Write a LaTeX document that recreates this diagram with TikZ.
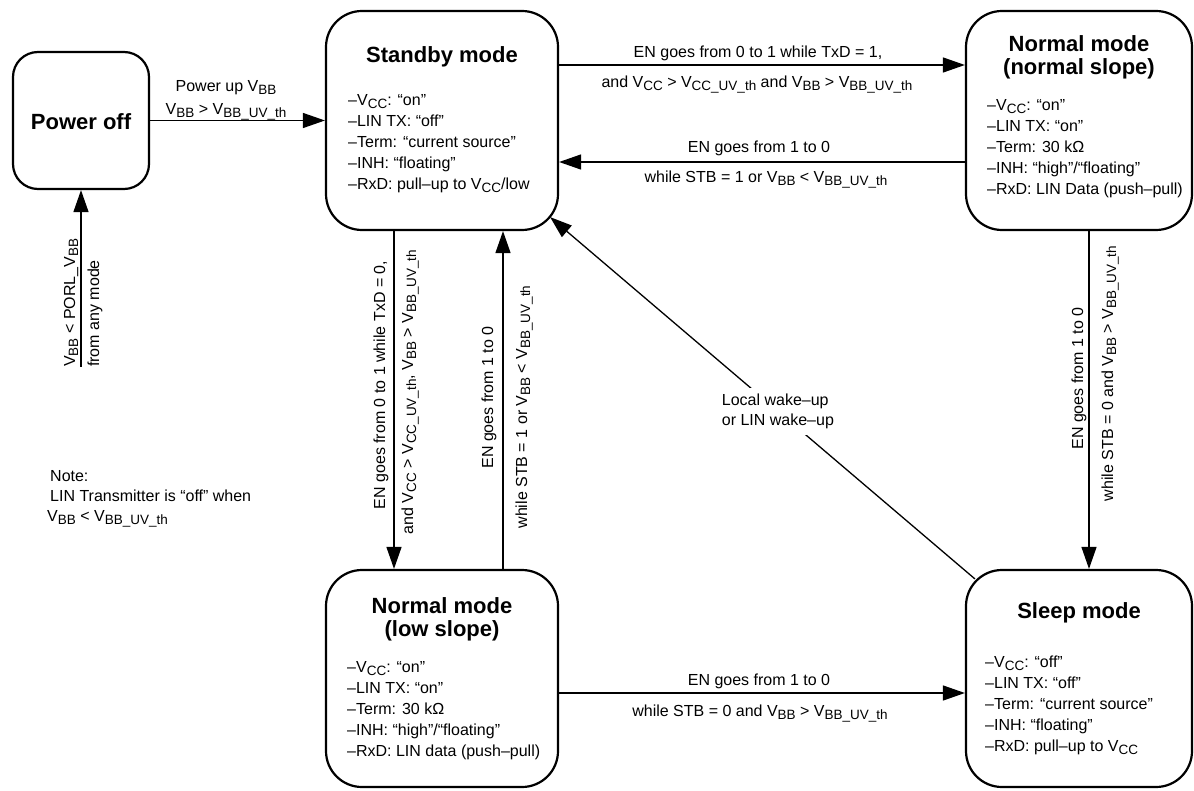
\documentclass[tikz,border=0pt]{standalone}
\usepackage{fontspec}
\setmainfont{Liberation Sans}
\usetikzlibrary{arrows.meta}
\newcommand\subs[1]{\raisebox{-3pt}{\fontsize{13.5}{13.5}\selectfont #1}}
\newcommand\myline[1]{\hbox{#1}}
\newcommand\mystack[2]{\vtop{\baselineskip=#1\relax #2}}
\newcommand\twoc[2]{\vtop{\baselineskip=23pt\relax\hbox to 0pt{\hss #1\hss}\hbox to 0pt{\hss #2\hss}}}
\tikzset{
  box/.style={draw, line width=2.2pt, rounded corners=36pt, inner sep=0pt},
  arr/.style={line width=1.3pt, -{Triangle[length=22pt,width=15pt]}},
  lbl/.style={font=\fontsize{16}{20}\selectfont, inner sep=0pt},
  ttl/.style={font=\fontsize{22}{24}\selectfont\bfseries, inner sep=0pt},
}
\begin{document}
\begin{tikzpicture}[x=1pt,y=-1pt]
\path[use as bounding box] (0,0) rectangle (1194,791);
% boxes
\node[box, rounded corners=25pt, minimum width=136pt, minimum height=137pt] (poweroff) at (81,120.5) {};
\node[box, minimum width=232pt, minimum height=219pt] (standby) at (442,120.5) {};
\node[box, minimum width=226pt, minimum height=219pt] (normal) at (1079,120.5) {};
\node[box, minimum width=232pt, minimum height=217pt] (lowsl) at (442,678.5) {};
\node[box, minimum width=226pt, minimum height=217pt] (sleep) at (1079,678.5) {};
% titles
\node[ttl, anchor=base] (poweroffT) at (81,130) {Power off};
\node[ttl, anchor=base] (standbyT) at (442,63) {Standby mode};
\node[ttl, anchor=base] (normalT) at (1079,52) {\twoc{Normal mode}{(normal slope)}};
\node[ttl, anchor=base] (lowslT) at (442,613) {\twoc{Normal mode}{(low slope)}};
\node[ttl, anchor=base] (sleepT) at (1079,618) {Sleep mode};
% bodies
\node[lbl, anchor=base west] (standbyB) at (348,106) {\mystack{21pt}{%
  \myline{–V\subs{CC}: “on”}\myline{–LIN TX: “off”}\myline{–Term: “current source”}%
  \myline{–INH: “floating”}\myline{–RxD: pull–up to V\subs{CC}/low}}};
\node[lbl, anchor=base west] (normalB) at (987,111) {\mystack{21pt}{%
  \myline{–V\subs{CC}: “on”}\myline{–LIN TX: “on”}\myline{–Term: 30 kΩ}%
  \myline{–INH: “high”/“floating”}\myline{–RxD: LIN Data (push–pull)}}};
\node[lbl, anchor=base west] (lowslB) at (347,672) {\mystack{21pt}{%
  \myline{–V\subs{CC}: “on”}\myline{–LIN TX: “on”}\myline{–Term: 30 kΩ}%
  \myline{–INH: “high”/“floating”}\myline{–RxD: LIN data (push–pull)}}};
\node[lbl, anchor=base west] (sleepB) at (985,667) {\mystack{21pt}{%
  \myline{–V\subs{CC}: “off”}\myline{–LIN TX: “off”}\myline{–Term: “current source”}%
  \myline{–INH: “floating”}\myline{–RxD: pull–up to V\subs{CC}}}};
% connectors
\coordinate (porl) at (81,367);
\draw[arr] (porl) -- (poweroff.south);
\draw[arr] (poweroff) -- (standby);
\draw[arr] ([yshift=55.5pt]standby.east) -- ([yshift=55.5pt]normal.west);
\draw[arr] ([yshift=-41.5pt]normal.west) -- ([yshift=-41.5pt]standby.east);
\draw[arr] ([xshift=-48pt]standby.south) -- ([xshift=-48pt]lowsl.north);
\draw[arr] ([xshift=61pt]lowsl.north) -- ([xshift=61pt]standby.south);
\draw[arr] ([xshift=10pt]normal.south) -- ([xshift=10pt]sleep.north);
\draw[arr] ([yshift=-14.5pt]lowsl.east) -- ([yshift=-14.5pt]sleep.west);
\draw[arr] ([xshift=10pt,yshift=-10pt]sleep.north west) --
  node[pos=0.4637, fill=white, inner sep=6pt, font=\fontsize{16}{20}\selectfont] (wake)
  {\mystack{20pt}{\myline{Local wake–up}\myline{or LIN wake–up}}}
  ([xshift=-9pt,yshift=14pt]standby.south east);
% edge labels
\node[lbl, rotate=90, anchor=base west] (porlA) at (75,367) {V\subs{BB} < PORL\_V\subs{BB}};
\node[lbl, rotate=90, anchor=base west] (porlB) at (99,367) {from any mode};
\node[lbl, anchor=base] (puA) at (226,92) {Power up V\subs{BB}};
\node[lbl, anchor=base] (puB) at (226,115) {V\subs{BB} > V\subs{BB\_UV\_th}};
\node[lbl, anchor=base] (tA) at (758,58) {EN goes from 0 to 1 while TxD = 1,};
\node[lbl, anchor=base] (tB) at (757,88) {and V\subs{CC} > V\subs{CC\_UV\_th} and V\subs{BB} > V\subs{BB\_UV\_th}};
\node[lbl, anchor=base] (rA) at (759,153) {EN goes from 1 to 0};
\node[lbl, anchor=base] (rB) at (766,183) {while STB = 1 or V\subs{BB} < V\subs{BB\_UV\_th}};
\node[lbl, anchor=base] (bA) at (759,685) {EN goes from 1 to 0};
\node[lbl, anchor=base] (bB) at (760,716) {while STB = 0 and V\subs{BB} > V\subs{BB\_UV\_th}};
\node[lbl, rotate=90, anchor=base] (dA) at (385,385) {EN goes from 0 to 1 while TxD = 0,};
\node[lbl, rotate=90, anchor=base] (dB) at (413,392) {and V\subs{CC} > V\subs{CC\_UV\_th}, V\subs{BB} > V\subs{BB\_UV\_th}};
\node[lbl, rotate=90, anchor=base] (uA) at (493,397.5) {EN goes from 1 to 0};
\node[lbl, rotate=90, anchor=base] (uB) at (527,407) {while STB = 1 or V\subs{BB} < V\subs{BB\_UV\_th}};
\node[lbl, rotate=90, anchor=base] (sA) at (1083,378.5) {EN goes from 1 to 0};
\node[lbl, rotate=90, anchor=base] (sB) at (1113,373.5) {while STB = 0 and V\subs{BB} > V\subs{BB\_UV\_th}};
% note
\node[lbl, anchor=base west] (note) at (47,481) {\mystack{20pt}{%
  \myline{\hspace{3pt}Note:}\myline{\hspace{3pt}LIN Transmitter is “off” when}%
  \myline{V\subs{BB} < V\subs{BB\_UV\_th}}}};
\end{tikzpicture}
\end{document}
